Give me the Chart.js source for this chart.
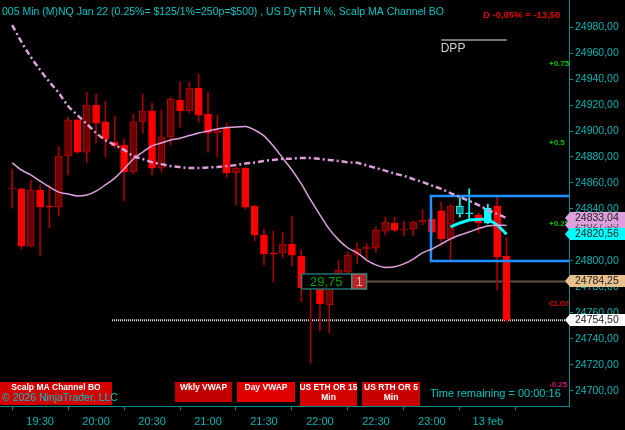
<!DOCTYPE html>
<html>
<head>
<meta charset="utf-8">
<script src="https://cdn.jsdelivr.net/npm/chart.js@4.4.1/dist/chart.umd.min.js"></script>
<style>
  html, body { margin: 0; padding: 0; background: #000; }
  #wrap { width: 625px; height: 430px; }
</style>
</head>
<body>
<div id="wrap"><canvas id="chart" width="625" height="430"></canvas></div>
<script>
// 5 min bars, index 0 = 19:15
const opens = [24855.5, 24855.5, 24811.5, 24854.5, 24842.25, 24841.5, 24880.75, 24908.5, 24883.75, 24920,
  24907, 24891.5, 24889.25, 24868.5, 24907, 24915.5, 24871.5, 24895.5, 24923.75, 24915.5,
  24933, 24913, 24898.5, 24902.25, 24867.75, 24871.5, 24842.25, 24820, 24805.5, 24806.25,
  24813, 24803.75, 24778.5, 24785.5, 24766.25, 24785.5, 24791.5, 24804.5, 24809.25, 24810,
  24823, 24829.25, 24823.75, 24824.5, 24830, 24832.25, 24838.5, 24817, 24842.25, 24836.25,
  24835.5, 24829.25, 24842.25, 24803.75];
const highs = [24870.75, 24856.25, 24862.25, 24858.5, 24858.5, 24887.75, 24910.75, 24909.25, 24930, 24928.5,
  24923, 24911.5, 24893.75, 24913, 24928.5, 24921.5, 24916.25, 24926.25, 24937.75, 24937.75,
  24943.75, 24930, 24912.25, 24906, 24872.25, 24872.25, 24843, 24824.5, 24823, 24822.25,
  24834.5, 24808.5, 24788.5, 24787.75, 24787.75, 24800.75, 24807, 24813.75, 24813.75, 24826.25,
  24833.75, 24833.75, 24830.75, 24830.75, 24839.25, 24839.25, 24845.5, 24843.75, 24849.25, 24855.5,
  24837, 24843.75, 24849.25, 24817.75];
const lows = [24840.75, 24809.25, 24810.75, 24804.5, 24825.5, 24834.5, 24866.25, 24883, 24875.5, 24890.75,
  24880, 24887, 24846.25, 24867, 24898.5, 24866.25, 24868.5, 24889.25, 24903, 24913.75,
  24907, 24883.75, 24880, 24864.5, 24843, 24840, 24815.5, 24797, 24783.75, 24802.25,
  24796.25, 24768.5, 24721.5, 24746.25, 24744.5, 24783.75, 24788.5, 24797.75, 24802.25, 24807,
  24820, 24822.25, 24819.25, 24819.25, 24827.75, 24819.25, 24811.5, 24800.75, 24833.75, 24831.5,
  24821.5, 24828.5, 24777.75, 24753];
const closes = [24856.25, 24811.5, 24854.5, 24841.5, 24841.5, 24880.75, 24908.5, 24883.75, 24920, 24906,
  24893.75, 24888.5, 24868.5, 24907, 24915.5, 24871.5, 24895.5, 24924.5, 24915.5, 24933,
  24912.25, 24898.5, 24900.75, 24867.75, 24871.5, 24841.5, 24820, 24805.5, 24805.25, 24813,
  24804.5, 24779.25, 24785.5, 24767, 24785.5, 24793, 24804.5, 24809.25, 24810.75, 24823.75,
  24830, 24823.75, 24823.75, 24830, 24831.5, 24822.25, 24817, 24842.25, 24836.25, 24836.25,
  24829.25, 24840.75, 24803, 24754.5];
const cyanBars = [48, 49, 51];

const slowMA = [24981.5, 24968.5, 24957, 24947, 24937.75, 24929.25, 24919.25, 24912.25, 24905.5, 24898.5,
  24893, 24889.25, 24885.5, 24880.75, 24878.5, 24876, 24874.5, 24873, 24872.25, 24871.5,
  24871.5, 24872, 24872.25, 24873, 24873.75, 24875, 24875.75, 24877, 24877.75, 24878.5,
  24878.75, 24879.25, 24879.25, 24878.5, 24877.75, 24877, 24876, 24875.5, 24873.5, 24871.5,
  24869.5, 24867.25, 24865.5, 24863, 24860.75, 24858, 24855.5, 24852.25, 24849.25, 24846.25,
  24843, 24839.25, 24836.25, 24833.04];
const fastMA = [24875.5, 24870, 24866.25, 24861.5, 24857, 24853, 24851.5, 24850, 24850.75, 24853.75,
  24858.5, 24863.75, 24870.75, 24878.5, 24883.75, 24888.5, 24890.75, 24893, 24894.5, 24896.5,
  24898.5, 24900, 24901.5, 24902.75, 24903, 24903.5, 24900.75, 24896.25, 24888.5, 24879.25,
  24870, 24859.25, 24847, 24835.5, 24824.5, 24816.25, 24810, 24806.25, 24800.75, 24797,
  24795, 24795.5, 24797.75, 24801.5, 24806.25, 24809.25, 24813, 24817, 24820, 24822.25,
  24825, 24827, 24827.5, 24827.35];
const channelStart = 47;
const channelLine = [24826.25, 24829.25, 24831.5, 24832, 24832.25, 24827.75, 24820.56];

const xTickPos = [3, 9, 15, 21, 27, 33, 39, 45, 51];
const xTickText = ['19:30', '20:00', '20:30', '21:00', '21:30', '22:00', '22:30', '23:00', '13 feb'];
const yTickValues = [24700, 24720, 24740, 24760, 24780, 24800, 24820, 24840, 24860, 24880,
  24900, 24920, 24940, 24960, 24980];

const boxTop = 24850, boxBottom = 24800, boxStart = 44.9;
const dppLevel = 24970;
const entryPrice = 24784.25;
const lastPrice = 24754.50;
const levelTexts = ['+0.75', '+0.5', '+0.25', 'CLOS', '-0.25'];
const levelValues = [24951.5, 24890.75, 24828.5, 24767, 24704.5];
const markerValues = [24827.35, 24833.04, 24820.56, 24784.25, 24754.50];

const xMin = -1.3, xMax = 59.7;
const yMin = 24688.46, yMax = 25000.77;

const teal = '#00b4b4';
const axisColor = '#008c8c';
const font = 'Arial, "Liberation Sans", sans-serif';

const idx = opens.map((v, i) => i);
function bodyColor(i) {
  const up = closes[i] >= opens[i];
  if (cyanBars.includes(i)) return up ? '#00ffff' : '#008b8b';
  return up ? '#6e0000' : '#ff0000';
}
function bodyBorder(i) {
  if (cyanBars.includes(i)) return '#00ffff';
  return closes[i] >= opens[i] ? '#b80000' : '#ff0000';
}
function wickColor(i) {
  return cyanBars.includes(i) ? '#00ffff' : '#a80000';
}

const lineDs = (data, color, width, extra) => Object.assign({
  type: 'line', data, borderColor: color, borderWidth: width, pointRadius: 0,
  fill: false, order: 0, cubicInterpolationMode: 'monotone'
}, extra || {});

const overlay = {
  id: 'overlay',
  beforeDraw(chart) {
    const c = chart.ctx;
    c.save();
    c.fillStyle = '#000';
    c.fillRect(0, 0, chart.width, chart.height);
    c.restore();
  },
  afterDraw(chart) {
    const c = chart.ctx, xs = chart.scales.x, ys = chart.scales.y, a = chart.chartArea;
    c.save();

    // small level labels, cut at the axis
    c.save();
    c.beginPath();
    c.rect(a.left, a.top, a.right - a.left, a.bottom - a.top);
    c.clip();
    c.font = 'bold 8px ' + font;
    c.textBaseline = 'middle';
    const lvlColors = ['#00c000', '#00c000', '#00c000', '#e00000', '#d0107a'];
    levelTexts.forEach((t, i) => {
      c.fillStyle = lvlColors[i];
      c.fillText(t, 549, ys.getPixelForValue(levelValues[i]));
    });
    c.restore();

    // position label
    const lx = xs.getPixelForValue(31), ly = ys.getPixelForValue(entryPrice);
    c.fillStyle = '#000';
    c.fillRect(lx, ly - 8, 50, 16);
    c.strokeStyle = '#2aa8a8';
    c.lineWidth = 1;
    c.strokeRect(lx + 0.5, ly - 7.5, 50, 15);
    c.fillStyle = '#00a000';
    c.font = '13px ' + font;
    c.textAlign = 'center';
    c.textBaseline = 'middle';
    c.fillText('29,75', lx + 25, ly + 1);
    c.fillStyle = '#b52525';
    c.fillRect(lx + 50, ly - 8, 15, 16);
    c.strokeRect(lx + 50.5, ly - 7.5, 15, 15);
    c.fillStyle = '#f0b0b0';
    c.font = '12px ' + font;
    c.fillText('1', lx + 58, ly + 1);
    c.textAlign = 'left';

    // DPP
    c.fillStyle = '#d0d0d0';
    c.font = '12px ' + font;
    c.textBaseline = 'alphabetic';
    c.fillText('DPP', xs.getPixelForValue(46) - 0.5, ys.getPixelForValue(dppLevel) + 12);

    // price markers on the axis
    const mk = [
      ['#dda0dd', '#555'], ['#dda0dd', '#222'], ['#00ffff', '#222'], ['#e8c08e', '#222'], ['#ffffff', '#222']
    ];
    markerValues.forEach((v, i) => {
      const py = Math.round(ys.getPixelForValue(v));
      const r = a.right;
      c.beginPath();
      c.moveTo(r - 4, py);
      c.lineTo(r + 1, py - 6);
      c.lineTo(625, py - 6);
      c.lineTo(625, py + 6);
      c.lineTo(r + 1, py + 6);
      c.closePath();
      c.fillStyle = mk[i][0];
      c.fill();
      c.fillStyle = mk[i][1];
      c.font = '10.5px ' + font;
      c.textBaseline = 'middle';
      c.fillText(v.toFixed(2).replace('.', ','), r + 6, py + 0.5);
    });

    // header
    c.textBaseline = 'alphabetic';
    c.fillStyle = '#00c4c4';
    c.font = '10.5px ' + font;
    c.fillText('005 Min (M)NQ Jan 22 (0.25%= $125/1%=250p=$500) , US Dy RTH %, Scalp MA Channel BO', 2, 15);
    c.fillStyle = '#e00000';
    c.font = 'bold 9.5px ' + font;
    c.fillText('D -0,05% = -13,50', 483, 18);

    // buttons
    const btn = (x, w, h, color, lines) => {
      c.fillStyle = color;
      c.fillRect(x, 382, w, h);
      c.fillStyle = '#ffffff';
      c.font = 'bold 8.5px ' + font;
      c.textAlign = 'center';
      lines.forEach((t, k) => c.fillText(t, x + w / 2, 390 + k * 10));
      c.textAlign = 'left';
    };
    btn(0, 112, 23, '#d40000', ['Scalp MA Channel BO']);
    btn(175, 57, 20, '#c00000', ['Wkly VWAP']);
    btn(237, 58, 20, '#e00000', ['Day VWAP']);
    btn(300, 57, 24, '#d40000', ['US ETH OR 15', 'Min']);
    btn(362, 58, 24, '#c80000', ['US RTH OR 5', 'Min']);

    c.fillStyle = '#00c4c4';
    c.font = '10.5px ' + font;
    c.fillText('\u00a9 2026 NinjaTrader, LLC', 2, 401);
    c.font = '11px ' + font;
    c.fillText('Time remaining = 00:00:16', 430, 397);
    c.restore();
  }
};

new Chart(document.getElementById('chart'), {
  type: 'bar',
  data: {
    datasets: [
      lineDs(slowMA.map((v, i) => ({ x: i, y: v })), '#dda0dd', 2.5, { borderDash: [6, 3, 2, 3] }),
      lineDs(fastMA.map((v, i) => ({ x: i, y: v })), '#dda0dd', 1.5),
      lineDs(channelLine.map((v, i) => ({ x: channelStart + i, y: v })), '#00ffff', 3, { cubicInterpolationMode: 'default', tension: 0 }),
      lineDs([{ x: xMax, y: boxTop }, { x: boxStart, y: boxTop }, { x: boxStart, y: boxBottom }, { x: xMax, y: boxBottom }],
        '#1e90ff', 2.5, { cubicInterpolationMode: 'default', tension: 0 }),
      lineDs([{ x: 46, y: dppLevel }, { x: 53, y: dppLevel }], '#a0a0a0', 1.5),
      lineDs([{ x: 38, y: entryPrice }, { x: xMax, y: entryPrice }], '#5e5242', 2, { order: 3 }),
      lineDs([{ x: 10.7, y: lastPrice }, { x: xMax, y: lastPrice }], '#e8e8e8', 2, { borderDash: [1, 1], order: 3 }),
      {
        type: 'bar', order: 1,
        data: idx.map(i => ({ x: i, y: [opens[i], closes[i]] })),
        backgroundColor: idx.map(bodyColor),
        borderColor: idx.map(bodyBorder),
        borderWidth: 1, borderSkipped: false,
        barThickness: 7, minBarLength: 1, grouped: false
      },
      {
        type: 'bar', order: 2,
        data: idx.map(i => ({ x: i, y: [lows[i], highs[i]] })),
        backgroundColor: idx.map(wickColor),
        borderWidth: 0, barThickness: 1, grouped: false
      }
    ]
  },
  options: {
    responsive: false,
    animation: false,
    devicePixelRatio: 1,
    layout: { padding: 0 },
    plugins: { legend: { display: false }, tooltip: { enabled: false } },
    scales: {
      x: {
        type: 'linear', min: xMin, max: xMax, offset: false,
        afterBuildTicks: s => { s.ticks = xTickPos.map(v => ({ value: v })); },
        afterFit: s => { s.height = 24; s.paddingLeft = 0; s.paddingRight = 0; },
        ticks: {
          color: teal, font: { size: 11, family: font }, padding: 5, maxRotation: 0, autoSkip: false,
          callback: v => xTickText[xTickPos.indexOf(v)]
        },
        grid: { drawOnChartArea: false, tickLength: 4, tickColor: axisColor },
        border: { color: axisColor }
      },
      y: {
        position: 'right', min: yMin, max: yMax,
        afterBuildTicks: s => { s.ticks = yTickValues.map(v => ({ value: v })); },
        afterFit: s => { s.width = 56; s.paddingTop = 0; s.paddingBottom = 0; },
        ticks: {
          color: teal, font: { size: 10.5, family: font }, padding: 2,
          callback: v => v.toFixed(2).replace('.', ',')
        },
        grid: { drawOnChartArea: false, tickLength: 4, tickColor: axisColor },
        border: { color: axisColor }
      }
    }
  },
  plugins: [overlay]
});
</script>
</body>
</html>
